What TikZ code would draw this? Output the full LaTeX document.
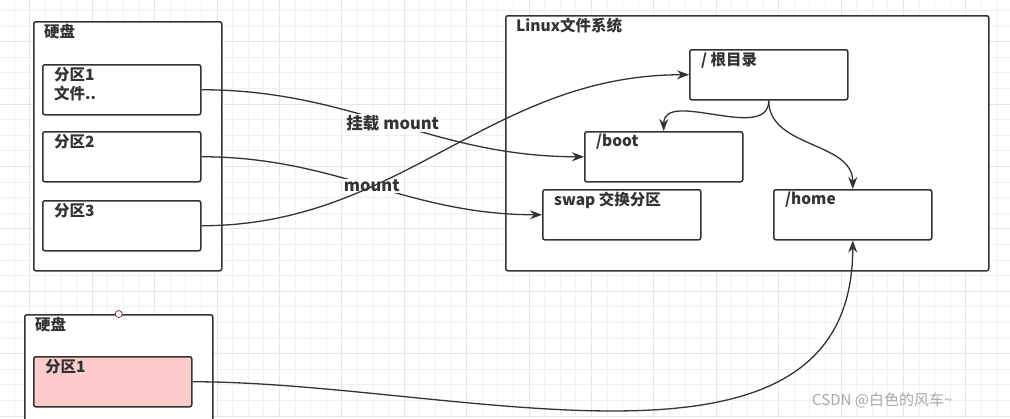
\documentclass[tikz,border=0pt]{standalone}
\usepackage{fontspec}
\setmainfont{Noto Sans CJK SC}
\usetikzlibrary{arrows.meta}
\definecolor{ink}{HTML}{333333}
\definecolor{pinkfill}{HTML}{FFCCCC}
\definecolor{gridminor}{HTML}{F1F1F1}
\definecolor{gridmajor}{HTML}{E6E6E6}
\definecolor{markgray}{HTML}{A8A8A8}
\tikzset{
	box/.style={draw=ink, line width=1.5pt, rounded corners=2pt, fill=white, anchor=north west, inner sep=0pt, minimum width=158pt, minimum height=50pt},
	tag/.style={anchor=north west, inner sep=0pt, text=ink, align=left, xshift=12pt, yshift=-3pt, font=\bfseries\fontsize{15.5}{19}\selectfont},
	edgetag/.style={fill=white, inner sep=1pt, text=ink, font=\bfseries\fontsize{16.5}{18}\selectfont},
	link/.style={draw=ink, line width=1.3pt, -{Stealth[length=12pt,width=9pt]}},
	plain/.style={draw=ink, line width=1.3pt}
}
\begin{document}
\begin{tikzpicture}
					[x=1pt,y=-1pt]
					\useasboundingbox (0,0) rectangle (1010,418);
					\clip (0,0) rectangle (1010,418);
					% grid
					\fill[white] (0,0) rectangle (1010,418);
					\foreach \i in {0,...,65}
						\draw[gridminor, line width=0.6pt] (-1.6+15.6*\i,0) -- ++(0,418);
					\foreach \j in {0,...,27}
						\draw[gridminor, line width=0.6pt] (0,-5.4+15.6*\j) -- ++(1010,0);
					\foreach \i in {0,...,16}
						\draw[gridmajor, line width=0.6pt] (29.6+62.4*\i,0) -- ++(0,418);
					\foreach \j in {-1,...,6}
						\draw[gridmajor, line width=0.6pt] (0,41.4+62.4*\j) -- ++(1010,0);
					% disk
					\node[box, minimum width=188pt, minimum height=249pt, label={[tag, xshift=-1pt]north west:硬盘}] (disk) at (33,21) {};
					\node[box, label={[tag]north west:{分区1\\文件..}}] (part1) at (42,64) {};
					\node[box, label={[tag]north west:分区2}] (part2) at (42,131) {};
					\node[box, label={[tag]north west:分区3}] (part3) at (42,200) {};
					% linux
					\node[box, minimum width=483pt, minimum height=255pt, label={[tag, xshift=-1pt]north west:Linux文件系统}] (linux) at (505,15) {};
					\node[box, label={[tag]north west:/ 根目录}] (root) at (689,49) {};
					\node[box, label={[tag]north west:/boot}] (boot) at (584,131) {};
					\node[box, label={[tag]north west:swap 交换分区}] (swap) at (542,189) {};
					\node[box, label={[tag]north west:/home}] (home) at (773,189) {};
					% second disk
					\node[box, minimum width=188pt, minimum height=130pt, label={[tag, xshift=-1pt]north west:硬盘}] (disktwo) at (24,314) {};
					\node[box, fill=pinkfill, label={[tag]north west:分区1}] (newpart) at (33,356) {};
					\draw[draw=ink!70!red, fill=white, line width=0.7pt] (disktwo.north) circle (3.5pt);
					% mount
					\draw[link] (part1.east) to[out=0,in=180] node[edgetag] {挂载 mount} (boot.west);
					\draw[link] (part2.east) to[out=0,in=180] node[edgetag] {mount} (swap.west);
					\draw[link] (part3.east) to[out=0,in=180] (root.west);
					% tree
					\draw[link] (root.south) to[out=-90,in=90] (boot.north);
					\draw[link] (root.south) to[out=-90,in=90] (home.north);
					\draw[link] (newpart.east) to[out=0,in=-90] (home.south);
					% text
					\node[anchor=west, inner sep=0pt, text=markgray, font=\fontsize{15}{16}\selectfont] (mark) at (812,400) {CSDN @白色的风车\textasciitilde};
				\end{tikzpicture}
\end{document}
